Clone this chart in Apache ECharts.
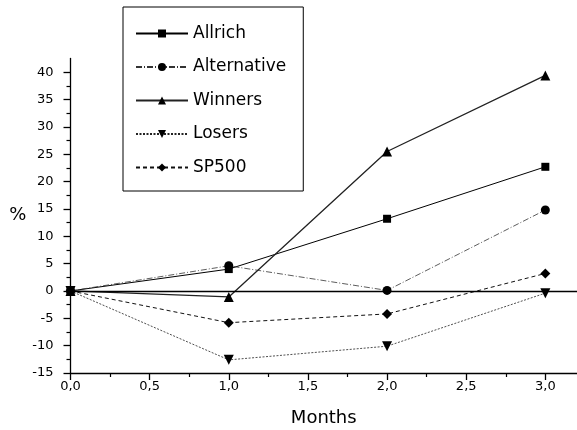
<!DOCTYPE html>
<html><head><meta charset="utf-8">
<script src="https://cdn.jsdelivr.net/npm/echarts@6/dist/echarts.min.js"></script>
<style>html,body{margin:0;padding:0;background:#fff}#c{width:577px;height:430px}</style>
</head><body><div id="c"></div>
<script>
var months = [0, 1, 2, 3];
var allrich = [0, 4.0, 13.2, 22.7];
var alternative = [0, 4.6, 0.1, 14.8];
var winners = [0, -1.1, 25.5, 39.4];
var losers = [0, -12.6, -10.1, -0.4];
var sp500 = [0, -5.8, -4.2, 3.2];
var seriesNames = ['Allrich', 'Alternative', 'Winners', 'Losers', 'SP500'];
var xTicks = [0, 0.5, 1.0, 1.5, 2.0, 2.5, 3.0];
var xMinorTicks = [0.25, 0.75, 1.25, 1.75, 2.25, 2.75];
var yTicks = [-15, -10, -5, 0, 5, 10, 15, 20, 25, 30, 35, 40];
var yMinorTicks = [-12.5, -7.5, -2.5, 2.5, 7.5, 12.5, 17.5, 22.5, 27.5, 32.5, 37.5];

function pairs(arr) { return arr.map(function (v, i) { return [months[i], v]; }); }
var FONT = 'DejaVu Sans';
var chart = echarts.init(document.getElementById('c'), null, { renderer: 'canvas' });
var styles = [
  { data: allrich, symbol: 'rect', size: 8, line: { color: '#000', width: 1, type: 'solid' } },
  { data: alternative, symbol: 'circle', size: 9, line: { color: '#333', width: 0.8, type: [6, 2, 1, 2] } },
  { data: winners, symbol: 'triangle', size: 10, line: { color: '#222', width: 1.3, type: 'solid' } },
  { data: losers, symbol: 'path://M0,0 L10,0 L5,9 Z', size: 10, line: { color: '#222', width: 0.8, type: [2, 1.5] } },
  { data: sp500, symbol: 'diamond', size: 10, line: { color: '#111', width: 1, type: [4, 3] } }
];
var series = styles.map(function (s, i) {
  var o = {
    name: seriesNames[i], type: 'line', data: pairs(s.data),
    symbol: s.symbol, symbolSize: s.size, showSymbol: true,
    itemStyle: { color: '#000' }, lineStyle: s.line, animation: false, z: 3
  };
  if (i === 0) {
    o.markLine = { silent: true, symbol: 'none', label: { show: false },
      lineStyle: { color: '#000', width: 1.3, type: 'solid' }, data: [{ yAxis: 0 }], animation: false };
  }
  return o;
});
var fmt = function (v) { return v.toFixed(1).replace('.', ','); };
chart.setOption({
  animation: false,
  color: ['#000'],
  grid: { left: 70.5, right: 0, top: 58.5, bottom: 57, containLabel: false, outerBoundsMode: 'none' },
  legend: {
    orient: 'vertical', left: 123, top: 7,
    padding: [18, 17, 15, 12], borderColor: '#000', borderWidth: 1,
    itemWidth: 52, itemHeight: 10, itemGap: 16.5,
    textStyle: { fontFamily: FONT, fontSize: 17, color: '#000' },
    data: seriesNames
  },
  xAxis: [{
    type: 'value', min: 0, max: 3.2, interval: 0.5, position: 'bottom',
    name: 'Months', nameLocation: 'middle', nameGap: 36,
    nameTextStyle: { fontFamily: FONT, fontSize: 18, color: '#000' },
    axisLine: { show: true, onZero: false, lineStyle: { color: '#000', width: 1.3 } },
    axisTick: { show: true, inside: false, length: 7, customValues: xTicks, lineStyle: { color: '#000', width: 1.3 } },
    axisLabel: { customValues: xTicks, fontFamily: FONT, fontSize: 13, color: '#000', margin: 7, formatter: fmt },
    splitLine: { show: false }
  }, {
    type: 'value', min: 0, max: 3.2, position: 'bottom',
    axisLine: { show: false, onZero: false },
    axisTick: { show: true, length: 4, customValues: xMinorTicks, lineStyle: { color: '#000', width: 1.2 } },
    axisLabel: { show: false }, splitLine: { show: false }
  }],
  yAxis: [{
    type: 'value', min: -15, max: 42.5, interval: 5, position: 'left',
    name: '%', nameLocation: 'middle', nameGap: 44, nameRotate: 0,
    nameTextStyle: { fontFamily: FONT, fontSize: 18, color: '#000' },
    axisLine: { show: true, onZero: false, lineStyle: { color: '#000', width: 1.3 } },
    axisTick: { show: true, inside: false, length: 7, customValues: yTicks, lineStyle: { color: '#000', width: 1.3 } },
    axisLabel: { customValues: yTicks, fontFamily: FONT, fontSize: 13, color: '#000', margin: 17 },
    splitLine: { show: false }
  }, {
    type: 'value', min: -15, max: 42.5, position: 'left',
    axisLine: { show: false, onZero: false },
    axisTick: { show: true, length: 4, customValues: yMinorTicks, lineStyle: { color: '#000', width: 1.2 } },
    axisLabel: { show: false }, splitLine: { show: false }
  }],
  series: series
});
</script>
</body></html>
